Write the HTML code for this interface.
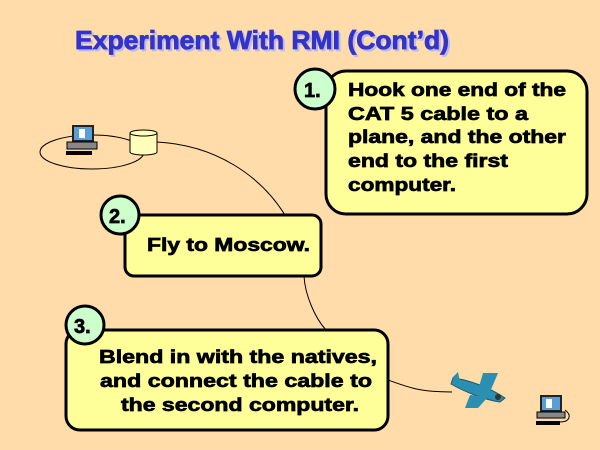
<!DOCTYPE html>
<html><head><meta charset="utf-8"><style>
html,body{margin:0;padding:0;background:#FFDDAA;}
svg{display:block;}
text{font-family:"Liberation Sans",sans-serif;font-weight:bold;}
</style></head><body>
<svg width="600" height="450" viewBox="0 0 600 450" xmlns="http://www.w3.org/2000/svg">
<rect width="600" height="450" fill="#FFDCA9"/>
<text x="77" y="51" font-size="26" fill="#BBBBEE" stroke="#BBBBEE" stroke-width="0.8" textLength="374" lengthAdjust="spacingAndGlyphs">Experiment With RMI (Cont’d)</text>
<text x="75" y="49" font-size="26" fill="#3333CC" stroke="#3333CC" stroke-width="0.8" textLength="374" lengthAdjust="spacingAndGlyphs">Experiment With RMI (Cont’d)</text>

<path d="M157,142 C215,145 260,175 285,215" fill="none" stroke="#000" stroke-width="1"/>
<path d="M304,276 C305,295 315,318 326,330" fill="none" stroke="#000" stroke-width="1"/>
<path d="M388,380 C410,388 420,392 452,392" fill="none" stroke="#000" stroke-width="1"/>

<ellipse cx="92" cy="152" rx="52" ry="17" fill="none" stroke="#000" stroke-width="1"/>
<g>
<rect x="72" y="125" width="22" height="17" fill="#222"/>
<rect x="74" y="127" width="18" height="13" fill="#5A9FD4"/>
<rect x="79" y="129" width="6" height="9" fill="#fff"/>
<rect x="67" y="142" width="30" height="7" fill="#888" stroke="#000" stroke-width="1"/>
<rect x="66" y="151" width="26" height="4" fill="#000"/>
</g>
<g>
<rect x="130" y="133" width="27" height="19" fill="#FFFFBB" stroke="#000"/>
<ellipse cx="143.5" cy="152" rx="13.5" ry="3" fill="#FFFFBB" stroke="#000"/>
<rect x="130.5" y="133" width="26" height="19" fill="#FFFFBB"/>
<ellipse cx="143.5" cy="133" rx="13.5" ry="3" fill="#FFFFBB" stroke="#000"/>
<line x1="130" y1="133" x2="130" y2="152" stroke="#000"/>
<line x1="157" y1="133" x2="157" y2="152" stroke="#000"/>
</g>

<g stroke="#000" stroke-width="0.7">
<rect x="326" y="71" width="261" height="143" rx="20" fill="#FFFF99" stroke="#000" stroke-width="3"/>
<circle cx="315" cy="89" r="20" fill="#CCFFCC" stroke="#000" stroke-width="3"/>
<text x="304" y="97" font-size="20">1.</text>
<g font-size="18.5" fill="#000">
<text x="348" y="96" textLength="218" lengthAdjust="spacingAndGlyphs">Hook one end of the</text>
<text x="348" y="120" textLength="180" lengthAdjust="spacingAndGlyphs">CAT 5 cable to a</text>
<text x="348" y="143" textLength="218" lengthAdjust="spacingAndGlyphs">plane, and the other</text>
<text x="348" y="167" textLength="160" lengthAdjust="spacingAndGlyphs">end to the first</text>
<text x="348" y="191" textLength="108" lengthAdjust="spacingAndGlyphs">computer.</text>
</g>

<rect x="125" y="215" width="196" height="61" rx="9" fill="#FFFF99" stroke="#000" stroke-width="3"/>
<circle cx="120" cy="215" r="19" fill="#CCFFCC" stroke="#000" stroke-width="3"/>
<text x="109" y="223" font-size="20">2.</text>
<text x="147" y="251" font-size="18.5" textLength="163" lengthAdjust="spacingAndGlyphs">Fly to Moscow.</text>

<rect x="66" y="330" width="322" height="100" rx="14" fill="#FFFF99" stroke="#000" stroke-width="3"/>
<circle cx="85" cy="325" r="19" fill="#CCFFCC" stroke="#000" stroke-width="3"/>
<text x="74" y="333" font-size="20">3.</text>
<g font-size="18.5">
<text x="99" y="363" textLength="278" lengthAdjust="spacingAndGlyphs">Blend in with the natives,</text>
<text x="100" y="387" textLength="272" lengthAdjust="spacingAndGlyphs">and connect the cable to</text>
<text x="121" y="411" textLength="238" lengthAdjust="spacingAndGlyphs">the second computer.</text>
</g>
</g>

<g>
<path d="M453,378 C470,380 490,388 505,398 L500,402 C485,400 465,392 451,384 Z" fill="#2A8FB0" stroke="#1a5a70"/>
<path d="M483,373 L498,373 L490,392 L478,390 Z" fill="#2A8FB0"/>
<path d="M470,395 L488,397 L478,408 L465,408 Z" fill="#2A8FB0"/>
<path d="M452,378 L458,372 L460,382 Z" fill="#2A8FB0"/>
<circle cx="498" cy="397" r="3" fill="#333"/>
</g>
<g>
<rect x="540" y="395" width="22" height="17" fill="#222"/>
<rect x="542" y="397" width="18" height="13" fill="#5A9FD4"/>
<rect x="546" y="399" width="6" height="9" fill="#fff"/>
<rect x="537" y="412" width="28" height="6" fill="#888" stroke="#000" stroke-width="1"/>
<rect x="536" y="421" width="24" height="4" fill="#000"/>
<path d="M565,410 C572,415 570,422 560,422" fill="none" stroke="#000"/>
</g>
</svg>
</body></html>
